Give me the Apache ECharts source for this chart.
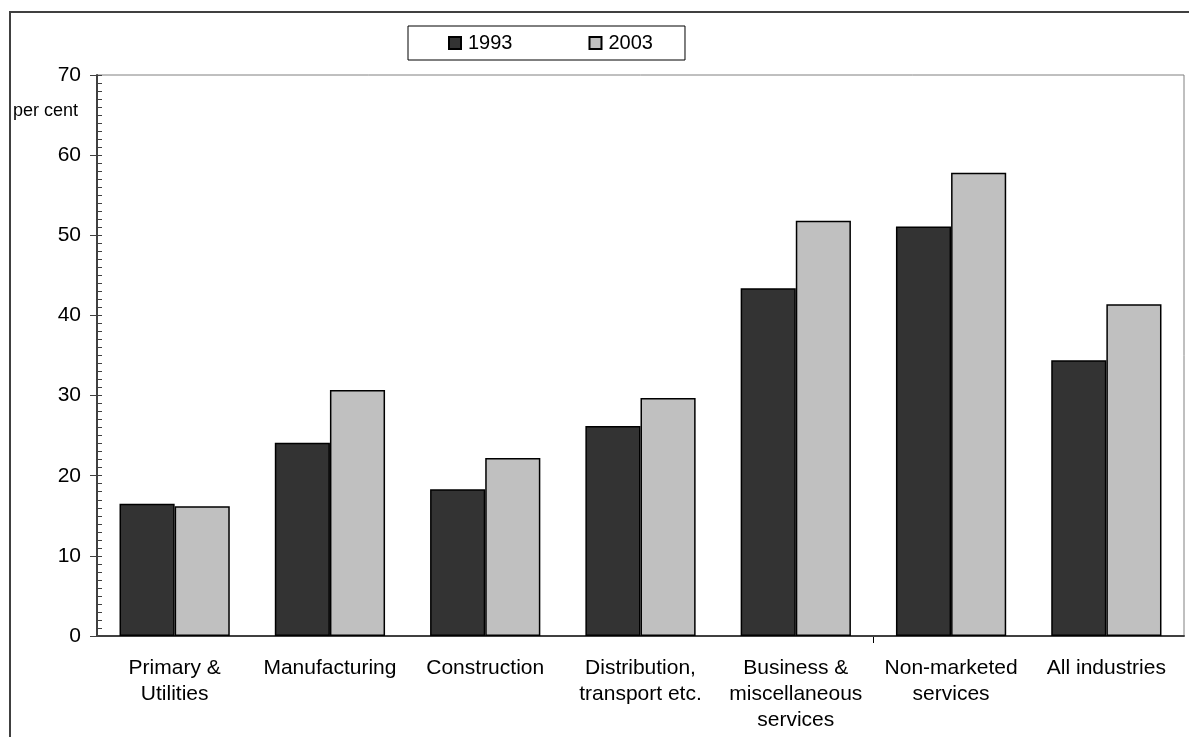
<!DOCTYPE html>
<html>
<head>
<meta charset="utf-8">
<script src="https://cdn.jsdelivr.net/npm/echarts@6/dist/echarts.min.js"></script>
<style>
  html, body { margin: 0; padding: 0; background: #fff; }
  #chart { width: 1189px; height: 737px; }
</style>
</head>
<body>
<div id="chart"></div>
<script>
// Industry groups along the x axis
const categories = [
  'Primary &\nUtilities',
  'Manufacturing',
  'Construction',
  'Distribution,\ntransport etc.',
  'Business &\nmiscellaneous\nservices',
  'Non-marketed\nservices',
  'All industries'
];
// Share of employees, per cent
const values1993 = [16.5, 24.1, 18.3, 26.2, 43.4, 51.1, 34.4];
const values2003 = [16.2, 30.7, 22.2, 29.7, 51.8, 57.8, 41.4];
const seriesNames = ['1993', '2003'];
const yTicks = { min: 0, max: 70, step: 10 };

const font = 'Liberation Sans, Arial, sans-serif';
const chart = echarts.init(document.getElementById('chart'), null, { renderer: 'canvas' });

chart.setOption({
  animation: false,
  backgroundColor: '#ffffff',
  textStyle: { fontFamily: font },
  legend: {
    left: 408, top: 26,
    padding: [7, 32, 7, 40],
    backgroundColor: '#fff',
    borderColor: '#000', borderWidth: 1,
    itemWidth: 12, itemHeight: 12, itemGap: 76,
    icon: 'rect',
    textStyle: { fontSize: 20, lineHeight: 20, color: '#000', fontFamily: font, padding: [0, 0, 0, 2] },
    data: seriesNames
  },
  grid: {
    left: 97, right: 5, top: 75, bottom: 101,
    show: true, borderColor: '#808080', borderWidth: 1, backgroundColor: 'transparent'
  },
  xAxis: {
    type: 'category',
    data: categories,
    axisLine: { lineStyle: { color: '#404040', width: 2 } },
    axisTick: { show: false },
    axisLabel: { interval: 0, fontSize: 21, color: '#000', lineHeight: 26, margin: 19, fontFamily: font }
  },
  yAxis: [
    {
      type: 'value', min: yTicks.min, max: yTicks.max, interval: yTicks.step,
      splitLine: { show: false },
      axisLine: { show: true, lineStyle: { color: '#404040', width: 2 } },
      axisTick: { show: true, length: 7, lineStyle: { color: '#404040', width: 1 } },
      axisLabel: { fontSize: 21, color: '#000', margin: 16, fontFamily: font }
    },
    {
      type: 'value', min: yTicks.min, max: yTicks.max, interval: 1,
      position: 'left',
      splitLine: { show: false },
      axisLine: { show: false },
      axisTick: { show: true, inside: true, length: 5, lineStyle: { color: '#404040', width: 1 } },
      axisLabel: { show: false }
    }
  ],
  series: [
    {
      name: seriesNames[0], type: 'bar', data: values1993,
      barGap: '0%', barCategoryGap: '29%',
      itemStyle: { color: '#333333', borderColor: '#000', borderWidth: 1.5 }
    },
    {
      name: seriesNames[1], type: 'bar', data: values2003,
      itemStyle: { color: '#c0c0c0', borderColor: '#000', borderWidth: 1.5 }
    }
  ]
});

// single category-boundary tick between the 5th and 6th groups
const xa = chart.convertToPixel({ xAxisIndex: 0 }, categories[4]);
const xb = chart.convertToPixel({ xAxisIndex: 0 }, categories[5]);
const y0 = chart.convertToPixel({ yAxisIndex: 0 }, 0);
const xt = Math.round((xa + xb) / 2) + 0.5;

chart.setOption({
  graphic: [
    // outer chart frame (right/bottom edges run off the page)
    { type: 'rect', z: -1, shape: { x: 10, y: 12, width: 1300, height: 900 },
      style: { fill: 'none', stroke: '#404040', lineWidth: 2 } },
    { type: 'text', left: 13, top: 102,
      style: { text: 'per cent', fontSize: 18, fontFamily: font, fill: '#000' } },
    { type: 'line', shape: { x1: xt, y1: y0, x2: xt, y2: y0 + 7 },
      style: { stroke: '#000', lineWidth: 1 } }
  ]
});
</script>
</body>
</html>
